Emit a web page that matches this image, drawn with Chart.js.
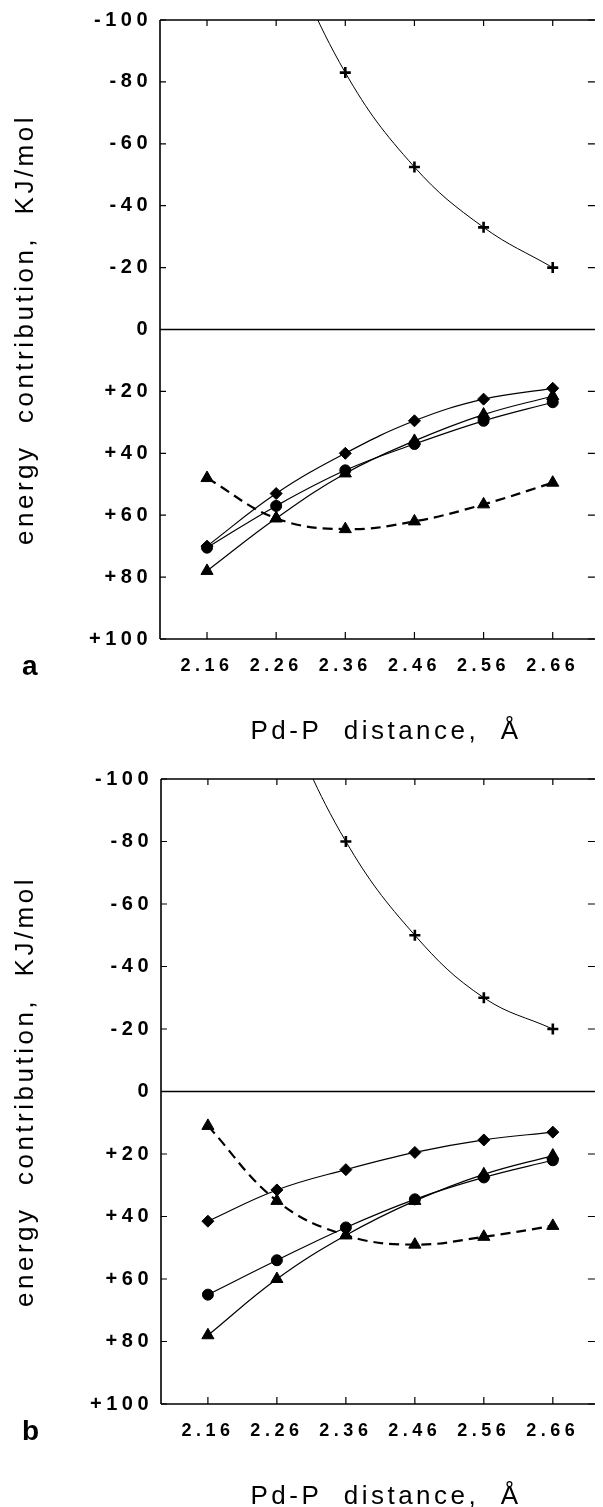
<!DOCTYPE html>
<html>
<head>
<meta charset="utf-8">
<script src="https://cdn.jsdelivr.net/npm/chart.js@4.4.1/dist/chart.umd.min.js"></script>
<style>
  html, body { margin: 0; padding: 0; background: #fff; }
  canvas { position: absolute; left: 0; }
  #chartA { top: 0; }
  #chartB { top: 753px; }
</style>
</head>
<body>
<canvas id="chartA" width="603" height="753"></canvas>
<canvas id="chartB" width="603" height="754"></canvas>
<script>
// Pd-P distance (Angstrom) and axis labels
const distances = [2.16, 2.26, 2.36, 2.46, 2.56, 2.66];
const xTickLabels = ['2.16', '2.26', '2.36', '2.46', '2.56', '2.66'];
const yTicks = [-100, -80, -60, -40, -20, 0, 20, 40, 60, 80, 100];
const yTickLabels = ['-100', '-80', '-60', '-40', '-20', '0', '+20', '+40', '+60', '+80', '+100'];

// panel a (KJ/mol, positive plotted downwards)
const plusA = [null, -130, -83, -52.5, -33, -20];
const diamondA = [70, 53, 40, 29.5, 22.5, 19];
const circleA = [70.5, 57, 45.5, 37, 29.5, 23.5];
const triangleA = [78, 61, 46.5, 36, 27.5, 21.5];
const dashedA = [48, 61, 64.5, 62, 56.5, 49.5];

// panel b
const plusB = [null, -125, -80, -50, -30, -20];
const diamondB = [41.5, 31.5, 25, 19.5, 15.5, 13];
const circleB = [65, 54, 43.5, 34.5, 27.5, 22];
const triangleB = [78, 60, 46, 35, 26.5, 20.5];
const dashedB = [11, 35, 46, 49, 46.5, 43];

const FONT = "'Liberation Sans', Arial, Helvetica, sans-serif";

function pts(ys) {
    return distances.map((x, i) => ({ x: x, y: ys[i] }));
}

// frame, inward ticks, zero line and titles
const framePlugin = {
    id: 'frame',
    beforeDraw(chart) {
        chart.ctx.letterSpacing = '4.5px';
    },
    beforeDatasetsDraw(chart) {
        const { ctx, chartArea: a, scales: { x, y } } = chart;
        ctx.letterSpacing = '0px';
        ctx.save();
        ctx.strokeStyle = '#000';
        ctx.lineWidth = 1.6;
        ctx.beginPath();
        ctx.moveTo(a.left, a.top); ctx.lineTo(a.right, a.top);
        ctx.moveTo(a.left, a.top); ctx.lineTo(a.left, a.bottom);
        ctx.moveTo(a.left, a.bottom); ctx.lineTo(a.right, a.bottom);
        const y0 = y.getPixelForValue(0);
        ctx.moveTo(a.left, y0); ctx.lineTo(a.right, y0);
        ctx.stroke();

        ctx.lineWidth = 1.2;
        ctx.beginPath();
        distances.forEach(v => {
            const px = x.getPixelForValue(v);
            ctx.moveTo(px, a.top); ctx.lineTo(px, a.top + 6);
            ctx.moveTo(px, a.bottom); ctx.lineTo(px, a.bottom - 7);
        });
        yTicks.forEach(v => {
            const py = y.getPixelForValue(v);
            ctx.moveTo(a.left, py); ctx.lineTo(a.left + 6, py);
            ctx.moveTo(a.right, py); ctx.lineTo(a.right - 7, py);
        });
        ctx.stroke();
        ctx.restore();
    },
    afterDraw(chart, args, opts) {
        const { ctx, chartArea: a } = chart;
        ctx.save();
        ctx.fillStyle = '#000';
        ctx.letterSpacing = '3.5px';

        // y title
        ctx.save();
        ctx.translate(33, (a.top + a.bottom) / 2);
        ctx.rotate(-Math.PI / 2);
        ctx.font = '26px ' + FONT;
        ctx.textAlign = 'center';
        ctx.textBaseline = 'alphabetic';
        ctx.fillText('energy  contribution,  KJ/mol', 0, 0);
        ctx.restore();

        // x title
        ctx.font = '26px ' + FONT;
        ctx.textAlign = 'center';
        ctx.textBaseline = 'alphabetic';
        ctx.fillText('Pd-P  distance,  \u00C5', 386, a.bottom + 100);

        // panel letter
        ctx.letterSpacing = '0px';
        ctx.font = 'bold 28px ' + FONT;
        ctx.textAlign = 'left';
        ctx.fillText(opts.letter, 22, a.bottom + 36);
        ctx.restore();
    }
};

function makePanel(canvasId, letter, geom, s) {
    const solid = { borderColor: '#000', borderWidth: 1.2, pointBackgroundColor: '#000',
        pointBorderColor: '#000', pointBorderWidth: 1, tension: 0.4, fill: false };
    const ctx = document.getElementById(canvasId).getContext('2d');
    return new Chart(ctx, {
        type: 'line',
        data: {
            datasets: [
                Object.assign({}, solid, { label: 'plus', data: pts(s.plus), pointStyle: 'cross',
                    pointRadius: 5.5, pointBorderWidth: 2.6, borderWidth: 1 }),
                Object.assign({}, solid, { label: 'diamond', data: pts(s.diamond), pointStyle: 'rectRot', pointRadius: 6 }),
                Object.assign({}, solid, { label: 'circle', data: pts(s.circle), pointStyle: 'circle', pointRadius: 5.5 }),
                Object.assign({}, solid, { label: 'triangle', data: pts(s.triangle), pointStyle: 'triangle', pointRadius: 7 }),
                Object.assign({}, solid, { label: 'dashed', data: pts(s.dashed), pointStyle: 'triangle', pointRadius: 7,
                    borderWidth: 2.2, borderDash: [10, 6] })
            ]
        },
        options: {
            responsive: false,
            animation: false,
            events: [],
            layout: { padding: { top: geom.top, left: 0, right: 0, bottom: 0 } },
            elements: { line: { capBezierPoints: false } },
            plugins: {
                legend: { display: false },
                tooltip: { enabled: false },
                frame: { letter: letter }
            },
            scales: {
                x: {
                    type: 'linear',
                    min: 2.092,
                    max: 2.721,
                    afterBuildTicks: sc => { sc.ticks = distances.map(v => ({ value: v })); },
                    afterFit: sc => { sc.height = geom.xAxisHeight; },
                    grid: { display: false, drawTicks: false },
                    border: { display: false },
                    ticks: {
                        autoSkip: false,
                        maxRotation: 0,
                        padding: 16,
                        color: '#000',
                        font: { family: FONT, size: 18, weight: 'bold' },
                        callback: (v, i) => xTickLabels[i]
                    }
                },
                y: {
                    type: 'linear',
                    reverse: true,
                    min: -100,
                    max: 100,
                    afterBuildTicks: sc => { sc.ticks = yTicks.map(v => ({ value: v })); },
                    afterFit: sc => { sc.width = geom.left; },
                    grid: { display: false, drawTicks: false },
                    border: { display: false },
                    ticks: {
                        padding: 8,
                        color: '#000',
                        font: { family: FONT, size: 20, weight: 'bold' },
                        callback: (v, i) => yTickLabels[i]
                    }
                }
            }
        },
        plugins: [framePlugin]
    });
}

document.addEventListener('DOMContentLoaded', function() {
    makePanel('chartA', 'a', { top: 17, left: 160, xAxisHeight: 114 },
        { plus: plusA, diamond: diamondA, circle: circleA, triangle: triangleA, dashed: dashedA });
    makePanel('chartB', 'b', { top: 26, left: 161, xAxisHeight: 103 },
        { plus: plusB, diamond: diamondB, circle: circleB, triangle: triangleB, dashed: dashedB });
});
</script>
</body>
</html>
